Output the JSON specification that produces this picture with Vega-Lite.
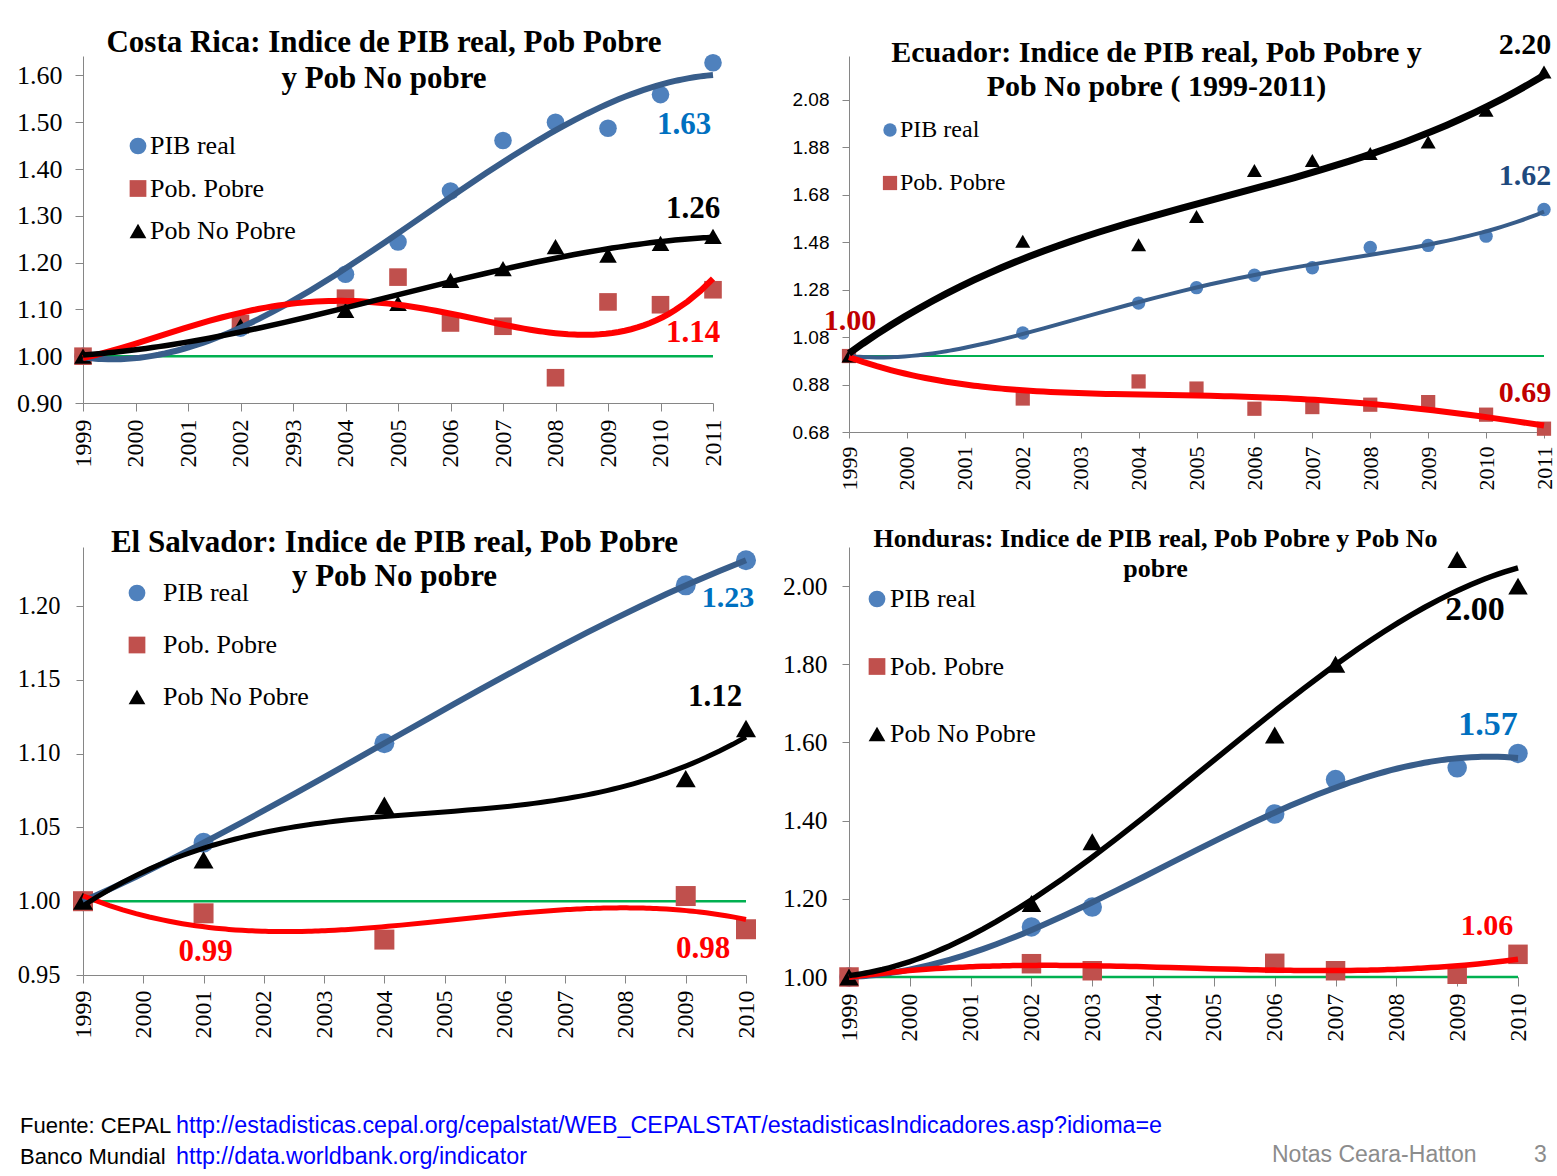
{
  "$schema": "https://vega.github.io/schema/vega-lite/v6.json",
  "background": "white",
  "padding": {"left": 16, "top": 26, "right": 0, "bottom": 0},
  "config": {
    "view": {"stroke": null},
    "font": "Liberation Serif",
    "axis": {"domainColor": "#868686", "tickColor": "#868686", "domainWidth": 1, "tickWidth": 1, "grid": false, "labelColor": "#000000", "labelFont": "Liberation Serif"},
    "legend": {"labelFont": "Liberation Serif", "labelColor": "#000000", "symbolStrokeWidth": 0, "symbolStrokeColor": "transparent", "padding": 0, "symbolOpacity": 1},
    "title": {"font": "Liberation Serif", "fontWeight": "bold", "color": "#000000", "anchor": "middle", "frame": "group"}
  },
  "datasets": {
    "cr": [
      {"series": "PIB real", "year": 1999, "value": 1.0},
      {"series": "PIB real", "year": 2002, "value": 1.06},
      {"series": "PIB real", "year": 2004, "value": 1.175},
      {"series": "PIB real", "year": 2005, "value": 1.244},
      {"series": "PIB real", "year": 2006, "value": 1.353},
      {"series": "PIB real", "year": 2007, "value": 1.461},
      {"series": "PIB real", "year": 2008, "value": 1.5},
      {"series": "PIB real", "year": 2009, "value": 1.487},
      {"series": "PIB real", "year": 2010, "value": 1.559},
      {"series": "PIB real", "year": 2011, "value": 1.627},
      {"series": "Pob. Pobre", "year": 1999, "value": 1.0},
      {"series": "Pob. Pobre", "year": 2002, "value": 1.07},
      {"series": "Pob. Pobre", "year": 2004, "value": 1.124},
      {"series": "Pob. Pobre", "year": 2005, "value": 1.169},
      {"series": "Pob. Pobre", "year": 2006, "value": 1.071},
      {"series": "Pob. Pobre", "year": 2007, "value": 1.064},
      {"series": "Pob. Pobre", "year": 2008, "value": 0.954},
      {"series": "Pob. Pobre", "year": 2009, "value": 1.116},
      {"series": "Pob. Pobre", "year": 2010, "value": 1.11},
      {"series": "Pob. Pobre", "year": 2011, "value": 1.142},
      {"series": "Pob No Pobre", "year": 1999, "value": 1.0},
      {"series": "Pob No Pobre", "year": 2002, "value": 1.065},
      {"series": "Pob No Pobre", "year": 2004, "value": 1.098},
      {"series": "Pob No Pobre", "year": 2005, "value": 1.113},
      {"series": "Pob No Pobre", "year": 2006, "value": 1.162},
      {"series": "Pob No Pobre", "year": 2007, "value": 1.187},
      {"series": "Pob No Pobre", "year": 2008, "value": 1.234},
      {"series": "Pob No Pobre", "year": 2009, "value": 1.216},
      {"series": "Pob No Pobre", "year": 2010, "value": 1.241},
      {"series": "Pob No Pobre", "year": 2011, "value": 1.256}
    ],
    "ec": [
      {"series": "PIB real", "year": 1999, "value": 1.0},
      {"series": "PIB real", "year": 2002, "value": 1.097},
      {"series": "PIB real", "year": 2004, "value": 1.223},
      {"series": "PIB real", "year": 2005, "value": 1.288},
      {"series": "PIB real", "year": 2006, "value": 1.34},
      {"series": "PIB real", "year": 2007, "value": 1.372},
      {"series": "PIB real", "year": 2008, "value": 1.457},
      {"series": "PIB real", "year": 2009, "value": 1.466},
      {"series": "PIB real", "year": 2010, "value": 1.505},
      {"series": "PIB real", "year": 2011, "value": 1.617},
      {"series": "Pob. Pobre", "year": 1999, "value": 1.0},
      {"series": "Pob. Pobre", "year": 2002, "value": 0.821},
      {"series": "Pob. Pobre", "year": 2004, "value": 0.893},
      {"series": "Pob. Pobre", "year": 2005, "value": 0.863},
      {"series": "Pob. Pobre", "year": 2006, "value": 0.778},
      {"series": "Pob. Pobre", "year": 2007, "value": 0.785},
      {"series": "Pob. Pobre", "year": 2008, "value": 0.795},
      {"series": "Pob. Pobre", "year": 2009, "value": 0.806},
      {"series": "Pob. Pobre", "year": 2010, "value": 0.753},
      {"series": "Pob. Pobre", "year": 2011, "value": 0.694},
      {"series": "Pob No Pobre", "year": 1999, "value": 1.0},
      {"series": "Pob No Pobre", "year": 2002, "value": 1.483},
      {"series": "Pob No Pobre", "year": 2004, "value": 1.469},
      {"series": "Pob No Pobre", "year": 2005, "value": 1.588},
      {"series": "Pob No Pobre", "year": 2006, "value": 1.782},
      {"series": "Pob No Pobre", "year": 2007, "value": 1.824},
      {"series": "Pob No Pobre", "year": 2008, "value": 1.853},
      {"series": "Pob No Pobre", "year": 2009, "value": 1.902},
      {"series": "Pob No Pobre", "year": 2010, "value": 2.035},
      {"series": "Pob No Pobre", "year": 2011, "value": 2.196}
    ],
    "es": [
      {"series": "PIB real", "year": 1999, "value": 1.0},
      {"series": "PIB real", "year": 2001, "value": 1.0396},
      {"series": "PIB real", "year": 2004, "value": 1.107},
      {"series": "PIB real", "year": 2009, "value": 1.214},
      {"series": "PIB real", "year": 2010, "value": 1.231},
      {"series": "Pob. Pobre", "year": 1999, "value": 1.0},
      {"series": "Pob. Pobre", "year": 2001, "value": 0.9918},
      {"series": "Pob. Pobre", "year": 2004, "value": 0.974},
      {"series": "Pob. Pobre", "year": 2009, "value": 1.0035},
      {"series": "Pob. Pobre", "year": 2010, "value": 0.981},
      {"series": "Pob No Pobre", "year": 1999, "value": 1.0},
      {"series": "Pob No Pobre", "year": 2001, "value": 1.028},
      {"series": "Pob No Pobre", "year": 2004, "value": 1.065},
      {"series": "Pob No Pobre", "year": 2009, "value": 1.083},
      {"series": "Pob No Pobre", "year": 2010, "value": 1.117}
    ],
    "hn": [
      {"series": "PIB real", "year": 1999, "value": 1.0},
      {"series": "PIB real", "year": 2002, "value": 1.128},
      {"series": "PIB real", "year": 2003, "value": 1.179},
      {"series": "PIB real", "year": 2006, "value": 1.417},
      {"series": "PIB real", "year": 2007, "value": 1.505},
      {"series": "PIB real", "year": 2009, "value": 1.535},
      {"series": "PIB real", "year": 2010, "value": 1.572},
      {"series": "Pob. Pobre", "year": 1999, "value": 1.0},
      {"series": "Pob. Pobre", "year": 2002, "value": 1.034},
      {"series": "Pob. Pobre", "year": 2003, "value": 1.016},
      {"series": "Pob. Pobre", "year": 2006, "value": 1.035},
      {"series": "Pob. Pobre", "year": 2007, "value": 1.016},
      {"series": "Pob. Pobre", "year": 2009, "value": 1.007},
      {"series": "Pob. Pobre", "year": 2010, "value": 1.058},
      {"series": "Pob No Pobre", "year": 1999, "value": 1.0},
      {"series": "Pob No Pobre", "year": 2002, "value": 1.188},
      {"series": "Pob No Pobre", "year": 2003, "value": 1.346},
      {"series": "Pob No Pobre", "year": 2006, "value": 1.619},
      {"series": "Pob No Pobre", "year": 2007, "value": 1.8},
      {"series": "Pob No Pobre", "year": 2009, "value": 2.068},
      {"series": "Pob No Pobre", "year": 2010, "value": 2.0}
    ],
    "ref11": [{"year": 1999, "value": 1}, {"year": 2011, "value": 1}],
    "ref10": [{"year": 1999, "value": 1}, {"year": 2010, "value": 1}],
    "ec_note": [{"note": "Fuente:  CEPAL y BM"}],
    "footer": [
      {"line": "1", "part": "label", "text": "Fuente: CEPAL"},
      {"line": "1", "part": "url", "text": "http://estadisticas.cepal.org/cepalstat/WEB_CEPALSTAT/estadisticasIndicadores.asp?idioma=e"},
      {"line": "2", "part": "label", "text": "Banco Mundial"},
      {"line": "2", "part": "url", "text": "http://data.worldbank.org/indicator"},
      {"line": "2", "part": "note", "text": "Notas Ceara-Hatton"},
      {"line": "2", "part": "page", "text": "3"}
    ]
  },
  "columns": 2,
  "spacing": {"row": 115, "column": 103},
  "bounds": "flush",
  "resolve": {"scale": {"color": "independent", "shape": "independent", "size": "independent"}, "legend": {"color": "independent", "shape": "independent"}},
  "concat": [
    {
      "width": 630, "height": 347,
      "title": {"text": ["Costa Rica: Indice de PIB real, Pob Pobre", "y Pob No pobre"], "fontSize": 31, "lineHeight": 36, "dx": -14, "offset": -41},
      "data": {"name": "cr"},
      "encoding": {
        "x": {"field": "year", "type": "quantitative", "title": null, "scale": {"domain": [1999, 2011], "nice": false, "zero": false},
              "axis": {"values": [1999,2000,2001,2002,2003,2004,2005,2006,2007,2008,2009,2010,2011], "format": "d", "labelExpr": "datum.value == 2003 ? '2993' : datum.label", "labelAngle": -90, "labelFontSize": 24, "tickSize": 8, "labelPadding": 8, "labelFlush": false, "labelOverlap": false}},
        "y": {"field": "value", "type": "quantitative", "title": null, "scale": {"domain": [0.9, 1.6415], "nice": false, "zero": false},
              "axis": {"values": [0.9,1,1.1,1.2,1.3,1.4,1.5,1.6], "format": ".2f", "labelFontSize": 26, "tickSize": 8, "labelPadding": 13}}
      },
      "layer": [
        {"data": {"name": "ref11"}, "mark": {"type": "line", "color": "#00B050", "strokeWidth": 2.5}, "encoding": {}},
        {"mark": {"type": "point", "filled": true, "opacity": 1, "strokeWidth": 0, "size": 310},
         "encoding": {
           "color": {"field": "series", "type": "nominal", "scale": {"domain": ["PIB real", "Pob. Pobre", "Pob No Pobre"], "range": ["#4F81BD", "#C0504D", "#000000"]},
                     "legend": {"title": null, "orient": "none", "legendX": 42, "legendY": 77, "direction": "vertical", "labelFontSize": 26, "symbolSize": 280, "symbolStrokeWidth": 0, "rowPadding": 16.5, "labelOffset": -1}},
           "shape": {"field": "series", "type": "nominal", "scale": {"domain": ["PIB real", "Pob. Pobre", "Pob No Pobre"], "range": ["circle", "square", "triangle-up"]},
                     "legend": {"title": null, "orient": "none", "legendX": 42, "legendY": 77, "direction": "vertical", "labelFontSize": 26, "symbolSize": 280, "symbolStrokeWidth": 0, "rowPadding": 16.5, "labelOffset": -1}}
         }},
        {"transform": [{"filter": "datum.series == 'PIB real'"}, {"regression": "value", "on": "year", "method": "poly", "order": 3, "extent": [1999, 2011]}],
         "mark": {"type": "line", "color": "#385D8A", "strokeWidth": 6, "strokeCap": "butt"}, "encoding": {}},
        {"transform": [{"filter": "datum.series == 'Pob. Pobre'"}, {"regression": "value", "on": "year", "method": "poly", "order": 4, "extent": [1999, 2011]}],
         "mark": {"type": "line", "color": "#FF0000", "strokeWidth": 6, "strokeCap": "butt"}, "encoding": {}},
        {"transform": [{"filter": "datum.series == 'Pob No Pobre'"}, {"regression": "value", "on": "year", "method": "poly", "order": 3, "extent": [1999, 2011]}],
         "mark": {"type": "line", "color": "#000000", "strokeWidth": 5.5, "strokeCap": "butt"}, "encoding": {}},
        {"transform": [{"filter": "datum.series == 'PIB real' && datum.year == 2011"}],
         "mark": {"type": "text", "dx": -29, "dy": 62, "fontSize": 31, "fontWeight": "bold", "color": "#0070C0"},
         "encoding": {"text": {"field": "value", "type": "quantitative", "format": ".2f"}}},
        {"transform": [{"filter": "datum.series == 'Pob No Pobre' && datum.year == 2011"}],
         "mark": {"type": "text", "dx": -20, "dy": -27, "fontSize": 31, "fontWeight": "bold", "color": "#000000"},
         "encoding": {"text": {"field": "value", "type": "quantitative", "format": ".2f"}}},
        {"transform": [{"filter": "datum.series == 'Pob. Pobre' && datum.year == 2011"}],
         "mark": {"type": "text", "dx": -20, "dy": 43, "fontSize": 31, "fontWeight": "bold", "color": "#FF0000"},
         "encoding": {"text": {"field": "value", "type": "quantitative", "format": ".2f"}}}
      ]
    },
    {
      "width": 695, "height": 376,
      "title": {"text": ["Ecuador: Indice de PIB real, Pob Pobre y", "Pob No pobre ( 1999-2011)"], "fontSize": 30, "lineHeight": 34, "dx": -40, "offset": -72},
      "data": {"name": "ec"},
      "encoding": {
        "x": {"field": "year", "type": "quantitative", "title": null, "scale": {"domain": [1999, 2011], "nice": false, "zero": false},
              "axis": {"values": [1999,2000,2001,2002,2003,2004,2005,2006,2007,2008,2009,2010,2011], "format": "d", "labelAngle": -90, "labelFontSize": 22, "tickSize": 6, "labelPadding": 8, "labelFlush": false, "labelOverlap": false}},
        "y": {"field": "value", "type": "quantitative", "title": null, "scale": {"domain": [0.68, 2.2638], "nice": false, "zero": false},
              "axis": {"values": [0.68,0.88,1.08,1.28,1.48,1.68,1.88,2.08], "format": ".2f", "labelFont": "Liberation Sans", "labelFontSize": 19, "tickSize": 7, "labelPadding": 13}}
      },
      "layer": [
        {"data": {"name": "ref11"}, "mark": {"type": "line", "color": "#00B050", "strokeWidth": 2}, "encoding": {}},
        {"mark": {"type": "point", "filled": true, "opacity": 1, "strokeWidth": 0},
         "encoding": {
           "color": {"field": "series", "type": "nominal", "scale": {"domain": ["PIB real", "Pob. Pobre", "Pob No Pobre"], "range": ["#4F81BD", "#C0504D", "#000000"]},
                     "legend": {"title": null, "values": ["PIB real", "Pob. Pobre"], "orient": "none", "legendX": 29, "legendY": 62, "direction": "vertical", "labelFontSize": 24, "symbolSize": 160, "symbolStrokeWidth": 0, "rowPadding": 29, "labelOffset": -2}},
           "shape": {"field": "series", "type": "nominal", "scale": {"domain": ["PIB real", "Pob. Pobre", "Pob No Pobre"], "range": ["circle", "square", "triangle-up"]},
                     "legend": {"title": null, "values": ["PIB real", "Pob. Pobre"], "orient": "none", "legendX": 29, "legendY": 62, "direction": "vertical", "labelFontSize": 24, "symbolSize": 160, "symbolStrokeWidth": 0, "rowPadding": 29, "labelOffset": -2}},
           "size": {"field": "series", "type": "ordinal", "scale": {"domain": ["PIB real", "Pob. Pobre", "Pob No Pobre"], "range": [180, 225, 120]}, "legend": null}
         }},
        {"transform": [{"filter": "datum.series == 'PIB real'"}, {"regression": "value", "on": "year", "method": "poly", "order": 4, "extent": [1999, 2011]}],
         "mark": {"type": "line", "color": "#385D8A", "strokeWidth": 4, "strokeCap": "butt"}, "encoding": {}},
        {"transform": [{"filter": "datum.series == 'Pob. Pobre'"}, {"regression": "value", "on": "year", "method": "poly", "order": 4, "extent": [1999, 2011]}],
         "mark": {"type": "line", "color": "#FF0000", "strokeWidth": 6, "strokeCap": "butt"}, "encoding": {}},
        {"transform": [{"filter": "datum.series == 'Pob No Pobre'"}, {"regression": "value", "on": "year", "method": "poly", "order": 3, "extent": [1999, 2011]}],
         "mark": {"type": "line", "color": "#000000", "strokeWidth": 7, "strokeCap": "butt"}, "encoding": {}},
        {"transform": [{"filter": "datum.series == 'Pob No Pobre' && datum.year == 2011"}],
         "mark": {"type": "text", "dx": -19, "dy": -27, "fontSize": 30, "fontWeight": "bold", "color": "#000000"},
         "encoding": {"text": {"field": "value", "type": "quantitative", "format": ".2f"}}},
        {"transform": [{"filter": "datum.series == 'PIB real' && datum.year == 2011"}],
         "mark": {"type": "text", "dx": -19, "dy": -34, "fontSize": 30, "fontWeight": "bold", "color": "#1F497D"},
         "encoding": {"text": {"field": "value", "type": "quantitative", "format": ".2f"}}},
        {"transform": [{"filter": "datum.series == 'Pob. Pobre' && datum.year == 2011"}],
         "mark": {"type": "text", "dx": -19, "dy": -36, "fontSize": 30, "fontWeight": "bold", "color": "#C00000"},
         "encoding": {"text": {"field": "value", "type": "quantitative", "format": ".2f"}}},
        {"transform": [{"filter": "datum.series == 'Pob. Pobre' && datum.year == 1999"}],
         "mark": {"type": "text", "dx": 1, "dy": -35, "fontSize": 30, "fontWeight": "bold", "color": "#C00000"},
         "encoding": {"text": {"field": "value", "type": "quantitative", "format": ".2f"}}},
        {"data": {"name": "ec_note"},
         "mark": {"type": "text", "align": "left", "baseline": "middle", "dx": 41, "dy": -27, "font": "Liberation Sans", "fontSize": 20, "color": "#000000"},
         "encoding": {"x": {"datum": 1999, "type": "quantitative"}, "y": {"datum": 0.68, "type": "quantitative"}, "text": {"field": "note", "type": "nominal"}}}
      ]
    },
    {
      "width": 663, "height": 428,
      "title": {"text": ["El Salvador: Indice de PIB real, Pob Pobre", "y Pob No pobre"], "fontSize": 31, "lineHeight": 34, "dx": -20, "offset": -46},
      "data": {"name": "es"},
      "encoding": {
        "x": {"field": "year", "type": "quantitative", "title": null, "scale": {"domain": [1999, 2010], "nice": false, "zero": false},
              "axis": {"values": [1999,2000,2001,2002,2003,2004,2005,2006,2007,2008,2009,2010], "format": "d", "labelAngle": -90, "labelFontSize": 24, "tickSize": 8, "labelPadding": 7, "labelFlush": false, "labelOverlap": false}},
        "y": {"field": "value", "type": "quantitative", "title": null, "scale": {"domain": [0.95, 1.24], "nice": false, "zero": false},
              "axis": {"values": [0.95,1,1.05,1.1,1.15,1.2], "format": ".2f", "labelFontSize": 24.5, "tickSize": 7, "labelPadding": 16}}
      },
      "layer": [
        {"data": {"name": "ref10"}, "mark": {"type": "line", "color": "#00B050", "strokeWidth": 2.5}, "encoding": {}},
        {"mark": {"type": "point", "filled": true, "opacity": 1, "strokeWidth": 0, "size": 400},
         "encoding": {
           "color": {"field": "series", "type": "nominal", "scale": {"domain": ["PIB real", "Pob. Pobre", "Pob No Pobre"], "range": ["#4F81BD", "#C0504D", "#000000"]},
                     "legend": {"title": null, "orient": "none", "legendX": 41, "legendY": 33, "direction": "vertical", "labelFontSize": 26, "symbolSize": 280, "symbolStrokeWidth": 0, "rowPadding": 26, "labelOffset": 13}},
           "shape": {"field": "series", "type": "nominal", "scale": {"domain": ["PIB real", "Pob. Pobre", "Pob No Pobre"], "range": ["circle", "square", "triangle-up"]},
                     "legend": {"title": null, "orient": "none", "legendX": 41, "legendY": 33, "direction": "vertical", "labelFontSize": 26, "symbolSize": 280, "symbolStrokeWidth": 0, "rowPadding": 26, "labelOffset": 13}}
         }},
        {"transform": [{"filter": "datum.series == 'PIB real'"}, {"regression": "value", "on": "year", "method": "poly", "order": 3, "extent": [1999, 2010]}],
         "mark": {"type": "line", "color": "#385D8A", "strokeWidth": 6, "strokeCap": "butt"}, "encoding": {}},
        {"transform": [{"filter": "datum.series == 'Pob. Pobre'"}, {"regression": "value", "on": "year", "method": "poly", "order": 3, "extent": [1999, 2010]}],
         "mark": {"type": "line", "color": "#FF0000", "strokeWidth": 5, "strokeCap": "butt"}, "encoding": {}},
        {"transform": [{"filter": "datum.series == 'Pob No Pobre'"}, {"regression": "value", "on": "year", "method": "poly", "order": 3, "extent": [1999, 2010]}],
         "mark": {"type": "line", "color": "#000000", "strokeWidth": 5, "strokeCap": "butt"}, "encoding": {}},
        {"transform": [{"filter": "datum.series == 'PIB real' && datum.year == 2010"}],
         "mark": {"type": "text", "dx": -18, "dy": 38, "fontSize": 30, "fontWeight": "bold", "color": "#0070C0"},
         "encoding": {"text": {"field": "value", "type": "quantitative", "format": ".2f"}}},
        {"transform": [{"filter": "datum.series == 'Pob No Pobre' && datum.year == 2010"}],
         "mark": {"type": "text", "dx": -31, "dy": -32, "fontSize": 31, "fontWeight": "bold", "color": "#000000"},
         "encoding": {"text": {"field": "value", "type": "quantitative", "format": ".2f"}}},
        {"transform": [{"filter": "datum.series == 'Pob. Pobre' && datum.year == 2010"}],
         "mark": {"type": "text", "dx": -43, "dy": 20, "fontSize": 31, "fontWeight": "bold", "color": "#FF0000"},
         "encoding": {"text": {"field": "value", "type": "quantitative", "format": ".2f"}}},
        {"transform": [{"filter": "datum.series == 'Pob. Pobre' && datum.year == 2001"}],
         "mark": {"type": "text", "dx": 2, "dy": 39, "fontSize": 31, "fontWeight": "bold", "color": "#FF0000"},
         "encoding": {"text": {"field": "value", "type": "quantitative", "format": ".2f"}}}
      ]
    },
    {
      "width": 669, "height": 430,
      "title": {"text": ["Honduras: Indice de PIB real, Pob Pobre y Pob No", "pobre"], "fontSize": 26, "lineHeight": 30, "dx": -28, "offset": -35},
      "data": {"name": "hn"},
      "encoding": {
        "x": {"field": "year", "type": "quantitative", "title": null, "scale": {"domain": [1999, 2010], "nice": false, "zero": false},
              "axis": {"values": [1999,2000,2001,2002,2003,2004,2005,2006,2007,2008,2009,2010], "format": "d", "labelAngle": -90, "labelFontSize": 24, "tickSize": 9, "labelPadding": 7, "labelFlush": false, "labelOverlap": false}},
        "y": {"field": "value", "type": "quantitative", "title": null, "scale": {"domain": [1, 2.1], "nice": false, "zero": false},
              "axis": {"values": [1,1.2,1.4,1.6,1.8,2], "format": ".2f", "labelFontSize": 25.5, "tickSize": 7, "labelPadding": 15}}
      },
      "layer": [
        {"data": {"name": "ref10"}, "mark": {"type": "line", "color": "#00B050", "strokeWidth": 2.5}, "encoding": {}},
        {"mark": {"type": "point", "filled": true, "opacity": 1, "strokeWidth": 0, "size": 380},
         "encoding": {
           "color": {"field": "series", "type": "nominal", "scale": {"domain": ["PIB real", "Pob. Pobre", "Pob No Pobre"], "range": ["#4F81BD", "#C0504D", "#000000"]},
                     "legend": {"title": null, "orient": "none", "legendX": 15, "legendY": 39, "direction": "vertical", "labelFontSize": 26, "symbolSize": 280, "symbolStrokeWidth": 0, "rowPadding": 41.5, "labelOffset": 0}},
           "shape": {"field": "series", "type": "nominal", "scale": {"domain": ["PIB real", "Pob. Pobre", "Pob No Pobre"], "range": ["circle", "square", "triangle-up"]},
                     "legend": {"title": null, "orient": "none", "legendX": 15, "legendY": 39, "direction": "vertical", "labelFontSize": 26, "symbolSize": 280, "symbolStrokeWidth": 0, "rowPadding": 41.5, "labelOffset": 0}}
         }},
        {"transform": [{"filter": "datum.series == 'PIB real'"}, {"regression": "value", "on": "year", "method": "poly", "order": 3, "extent": [1999, 2010]}],
         "mark": {"type": "line", "color": "#385D8A", "strokeWidth": 6, "strokeCap": "butt"}, "encoding": {}},
        {"transform": [{"filter": "datum.series == 'Pob. Pobre'"}, {"regression": "value", "on": "year", "method": "poly", "order": 3, "extent": [1999, 2010]}],
         "mark": {"type": "line", "color": "#FF0000", "strokeWidth": 5.5, "strokeCap": "butt"}, "encoding": {}},
        {"transform": [{"filter": "datum.series == 'Pob No Pobre'"}, {"regression": "value", "on": "year", "method": "poly", "order": 3, "extent": [1999, 2010]}],
         "mark": {"type": "line", "color": "#000000", "strokeWidth": 5.5, "strokeCap": "butt"}, "encoding": {}},
        {"transform": [{"filter": "datum.series == 'Pob No Pobre' && datum.year == 2010"}],
         "mark": {"type": "text", "dx": -43, "dy": 24, "fontSize": 34, "fontWeight": "bold", "color": "#000000"},
         "encoding": {"text": {"field": "value", "type": "quantitative", "format": ".2f"}}},
        {"transform": [{"filter": "datum.series == 'PIB real' && datum.year == 2010"}],
         "mark": {"type": "text", "dx": -30, "dy": -28, "fontSize": 34, "fontWeight": "bold", "color": "#0070C0"},
         "encoding": {"text": {"field": "value", "type": "quantitative", "format": ".2f"}}},
        {"transform": [{"filter": "datum.series == 'Pob. Pobre' && datum.year == 2010"}],
         "mark": {"type": "text", "dx": -31, "dy": -28, "fontSize": 30, "fontWeight": "bold", "color": "#FF0000"},
         "encoding": {"text": {"field": "value", "type": "quantitative", "format": ".2f"}}}
      ]
    },
    {
      "width": 600, "height": 65,
      "data": {"name": "footer"},
      "encoding": {"y": {"field": "line", "type": "ordinal", "scale": {"type": "point", "domain": ["1", "2"], "range": [34, 65], "padding": 0}, "axis": null}},
      "layer": [
        {"transform": [{"filter": "datum.part == 'label'"}],
         "mark": {"type": "text", "align": "left", "baseline": "middle", "font": "Liberation Sans", "fontSize": 22, "color": "#000000"},
         "encoding": {
           "x": {"field": "part", "type": "nominal", "scale": {"type": "point", "domain": ["label", "url"], "range": [-63, 93], "padding": 0}, "axis": null},
           "text": {"field": "text", "type": "nominal"}
         }},
        {"transform": [{"filter": "datum.part == 'url'"}],
         "mark": {"type": "text", "align": "left", "baseline": "middle", "font": "Liberation Sans", "fontSize": 23.3, "color": "#0000FF"},
         "encoding": {
           "x": {"field": "part", "type": "nominal", "scale": {"type": "point", "domain": ["label", "url"], "range": [-63, 93], "padding": 0}, "axis": null},
           "text": {"field": "text", "type": "nominal"}
         }},
        {"transform": [{"filter": "datum.part == 'note' || datum.part == 'page'"}],
         "mark": {"type": "text", "align": "left", "baseline": "middle", "font": "Liberation Sans", "fontSize": 23, "color": "#8C8C8C", "dy": -2},
         "encoding": {
           "x": {"field": "part", "type": "nominal", "scale": {"type": "point", "domain": ["note", "page"], "range": [1189, 1451], "padding": 0}, "axis": null},
           "text": {"field": "text", "type": "nominal"}
         }}
      ],
      "resolve": {"scale": {"x": "independent"}}
    }
  ]
}
